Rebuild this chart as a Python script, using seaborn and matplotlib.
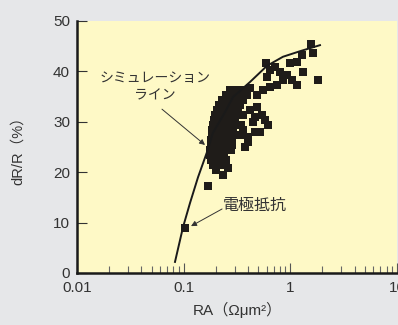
import numpy as np
import pandas as pd
import matplotlib
matplotlib.use("Agg")
import matplotlib.pyplot as plt
import seaborn as sns

plt.rcParams['font.family'] = ['Liberation Sans', 'Noto Sans CJK JP', 'DejaVu Sans']

# 測定点 RA (Ω·µm²), dR/R (%)
ra_meas = [
    0.272, 0.316, 0.368,
    0.249, 0.290, 0.337, 0.392,
    0.229, 0.266, 0.310, 0.360,
    0.214, 0.249, 0.290, 0.337,
    0.205, 0.239, 0.278, 0.323,
    0.197, 0.229, 0.266, 0.310, 0.360,
    0.193, 0.224, 0.260, 0.303,
    0.188, 0.219, 0.255, 0.297, 0.345,
    0.184, 0.214, 0.249, 0.290, 0.360,
    0.184, 0.214, 0.249, 0.290, 0.337, 0.401,
    0.180, 0.210, 0.244, 0.284,
    0.180, 0.210, 0.244, 0.284, 0.376,
    0.177, 0.205, 0.239, 0.278,
    0.177, 0.205, 0.239,
    0.180, 0.210, 0.249,
    0.188, 0.219, 0.260,
    0.201, 0.234,
    0.169, 0.103,
    0.419, 0.487, 0.466, 0.543, 0.579, 0.617, 0.447, 0.520, 0.466, 0.401,
    0.592, 0.645, 0.718, 0.800, 0.931, 1.037, 1.155, 0.993, 1.155, 1.287, 1.315,
    1.562, 1.631, 1.817, 0.604, 0.554, 0.645, 0.750, 0.487, 0.419, 0.376, 0.854,
]
dr_meas = [
    36.3, 36.3, 36.3,
    35.3, 35.3, 35.3, 35.3,
    34.3, 34.3, 34.3, 34.3,
    33.3, 33.3, 33.3, 33.3,
    32.3, 32.3, 32.3, 32.3,
    31.3, 31.3, 31.3, 31.3, 31.3,
    30.4, 30.4, 30.4, 30.4,
    29.4, 29.4, 29.4, 29.4, 29.4,
    28.4, 28.4, 28.4, 28.4, 28.4,
    27.4, 27.4, 27.4, 27.4, 27.4, 27.0,
    26.4, 26.4, 26.4, 26.4,
    25.4, 25.4, 25.4, 25.4, 25.0,
    24.4, 24.4, 24.4, 24.4,
    23.4, 23.4, 23.4,
    22.4, 22.4, 22.4,
    21.4, 21.4, 20.8,
    20.4, 19.4,
    17.3, 8.9,
    32.3, 32.9, 31.0, 31.3, 30.4, 29.4, 30.0, 28.0, 28.0, 26.0,
    41.7, 40.3, 40.9, 39.9, 39.3, 38.3, 37.3, 41.7, 41.9, 43.3, 39.9,
    45.4, 43.7, 38.3, 38.9, 36.3, 36.9, 37.3, 35.3, 36.7, 35.9, 38.3,
]

# シミュレーションライン
ra_sim = [0.0829, 0.0986, 0.1147, 0.1363, 0.1655, 0.188, 0.244, 0.290, 0.419, 0.604, 0.853, 1.232, 1.897]
dr_sim = [2.2, 9.1, 13.9, 19.0, 24.0, 27.8, 31.9, 34.9, 37.9, 41.1, 42.9, 44.0, 45.2]

x_ticks = [0.01, 0.1, 1, 10]
x_ticklabels = ["0.01", "0.1", "1", "10"]
y_ticks = [0, 10, 20, 30, 40, 50]

txt_color = "#333333"
bg_color = "#e6e7e9"
face_color = "#fef9c6"

fig = plt.figure(figsize=(3.98, 3.25), dpi=100, facecolor=bg_color)
ax = fig.add_axes([0.1935, 0.16, 0.804, 0.7755], facecolor=face_color)

df = pd.DataFrame({"RA": ra_meas, "dR": dr_meas})
sns.scatterplot(data=df, x="RA", y="dR", marker="s", s=26, color="#1f1c19",
                linewidth=0, ax=ax, zorder=3)
sns.lineplot(x=ra_sim, y=dr_sim, color="#1a1a1a", lw=1.4, sort=False,
             estimator=None, ax=ax, zorder=4)

ax.set_xscale("log")
ax.set_xlim(0.01, 10)
ax.set_ylim(0, 50)
ax.set_xticks(x_ticks)
ax.set_xticklabels(x_ticklabels)
ax.set_yticks(y_ticks)

for s in ["top", "right"]:
    ax.spines[s].set_visible(False)
for s in ["left", "bottom"]:
    ax.spines[s].set_linewidth(1.8)
    ax.spines[s].set_color("#1a1a1a")

ax.tick_params(axis="y", direction="in", length=7, width=0.8, color="#333333",
               labelsize=11, labelcolor=txt_color, pad=5)
ax.tick_params(axis="x", which="major", direction="in", length=7, width=0.8,
               color="#555555", labelsize=11, labelcolor=txt_color, pad=6)
ax.tick_params(axis="x", which="minor", direction="in", length=5, width=0.8,
               color="#666666")

ax.set_xlabel("RA（Ωμm²）", fontsize=11, color=txt_color, labelpad=5)
ax.set_ylabel("dR/R（%）", fontsize=10.5, color=txt_color, labelpad=20)

# 注記
ax.text(0.0539, 36.9, "シミュレーション\nライン", ha="center", va="center",
        fontsize=10, color=txt_color, linespacing=1.3)
ax.annotate("", xy=(0.1585, 25.4), xytext=(0.0626, 32.5),
            arrowprops=dict(arrowstyle="-|>", lw=0.7, color="#333333",
                            mutation_scale=8, shrinkA=0, shrinkB=0))
ax.text(0.466, 13.5, "電極抵抗", ha="center", va="center",
        fontsize=11.5, color=txt_color)
ax.annotate("", xy=(0.1172, 9.3), xytext=(0.229, 12.7),
            arrowprops=dict(arrowstyle="-|>", lw=0.7, color="#333333",
                            mutation_scale=8, shrinkA=0, shrinkB=0))

fig.savefig("out.png", dpi=100, facecolor=bg_color)
